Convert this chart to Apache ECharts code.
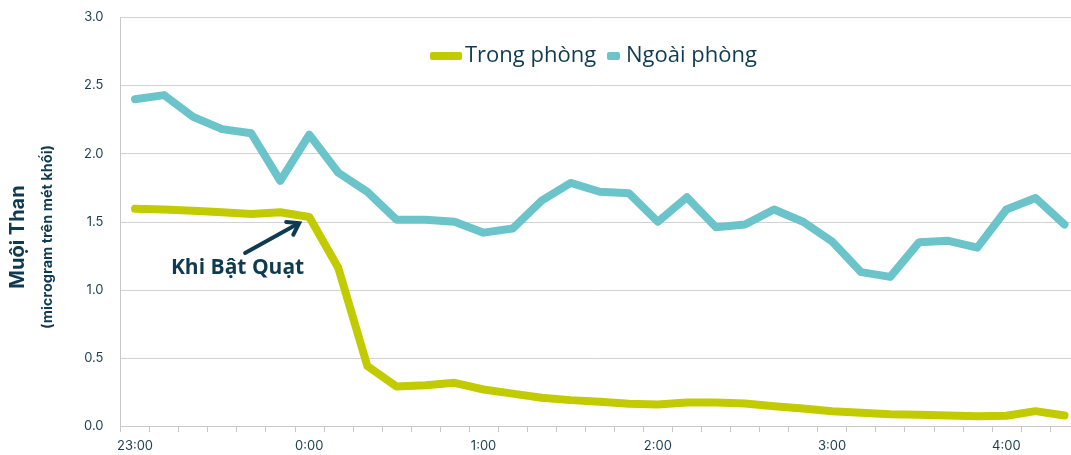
<!DOCTYPE html>
<html>
<head>
<meta charset="utf-8">
<script src="https://cdn.jsdelivr.net/npm/echarts@6/dist/echarts.min.js"></script>
<style>html,body{margin:0;padding:0;background:#fff;overflow:hidden;width:1071px;height:455px;}#c{width:1079px;height:455px;}</style>
</head>
<body>
<div id="c"></div>
<script>
const times = ['23:00','23:10','23:20','23:30','23:40','23:50','0:00','0:10','0:20','0:30','0:40','0:50','1:00','1:10','1:20','1:30','1:40','1:50','2:00','2:10','2:20','2:30','2:40','2:50','3:00','3:10','3:20','3:30','3:40','3:50','4:00','4:10','4:20'];
const trongPhong = [1.595,1.59,1.58,1.57,1.557,1.57,1.535,1.16,0.44,0.29,0.30,0.317,0.268,0.238,0.207,0.19,0.178,0.163,0.158,0.172,0.172,0.165,0.145,0.128,0.109,0.097,0.087,0.082,0.077,0.072,0.075,0.109,0.077];
const ngoaiPhong = [2.40,2.43,2.27,2.18,2.15,1.80,2.14,1.86,1.72,1.515,1.515,1.50,1.42,1.45,1.655,1.785,1.72,1.71,1.50,1.68,1.46,1.48,1.59,1.50,1.355,1.13,1.095,1.35,1.36,1.31,1.59,1.675,1.48];
const seriesNames = ['Trong phòng','Ngoài phòng'];
const yTitle = 'Muội Than';
const ySubtitle = '(microgram trên mét khối)';
const annotationText = 'Khi Bật Quạt';
// annotation anchors in data space: [category index, value]
const arrowTail = [3.79, 1.27];
const arrowHead = [5.65, 1.49];
const textAnchor = [3.53, 1.163];

const navy = '#0f3a4f';
const green = '#c2cb00';
const teal = '#6bc4c9';

const chart = echarts.init(document.getElementById('c'), null, {renderer:'canvas'});
const option = {
  animation: false,
  backgroundColor: '#fff',
  grid: {left: 120.5, right: 0, top: 17.5, bottom: 29, containLabel: false},
  legend: [
    {data:[seriesNames[0]], left: 430, top: 45, padding: 0, icon:'roundRect', itemWidth: 32, itemHeight: 8, itemGap: 0,
     textStyle:{color: navy, fontFamily:'Open Sans', fontSize: 22, padding:[0,0,0,-2]}},
    {data:[seriesNames[1]], left: 607, top: 45, padding: 0, icon:'roundRect', itemWidth: 13, itemHeight: 8, itemGap: 0,
     textStyle:{color: navy, fontFamily:'Open Sans', fontSize: 22, padding:[0,0,0,1]}}
  ],
  xAxis: {
    type: 'category', data: times, boundaryGap: true,
    axisLine: {lineStyle:{color:'#c8c8c8', width:1}},
    axisTick: {show:true, interval:0, length:6, lineStyle:{color:'#c8c8c8'}},
    axisLabel: {interval:5, color:'#1d3d4d', fontFamily:'Inter', fontSize:13, margin:14}
  },
  yAxis: {
    type:'value', min:0, max:3, interval:0.5,
    axisLine:{show:true, lineStyle:{color:'#c8c8c8'}},
    axisTick:{show:false},
    splitLine:{lineStyle:{color:'#d2d2d2'}},
    axisLabel:{color:'#1d3d4d', fontFamily:'Inter', fontSize:13, margin:17, formatter: v => v.toFixed(1)}
  },
  series: [
    {name: seriesNames[0], type:'line', data: trongPhong, symbol:'none', color: green,
     lineStyle:{width:8, color: green, cap:'round', join:'round'}, z:3},
    {name: seriesNames[1], type:'line', data: ngoaiPhong, symbol:'none', color: teal,
     lineStyle:{width:8, color: teal, cap:'round', join:'round'}, z:2}
  ]
};
chart.setOption(option);

function px(pt){
  const a = chart.convertToPixel({gridIndex:0}, [0, pt[1]]);
  const b = chart.convertToPixel({gridIndex:0}, [1, pt[1]]);
  return [a[0] + (b[0]-a[0])*pt[0], a[1]];
}
const t = px(arrowTail), h = px(arrowHead), c = px(textAnchor);
const ang = Math.atan2(h[1]-t[1], h[0]-t[0]);
const L = 13, spread = 0.6;
const w1 = [h[0] - L*Math.cos(ang - spread), h[1] - L*Math.sin(ang - spread)];
const w2 = [h[0] - L*Math.cos(ang + spread), h[1] - L*Math.sin(ang + spread)];
chart.setOption({
  graphic: [
    {type:'line', shape:{x1:t[0], y1:t[1], x2:h[0]-2*Math.cos(ang), y2:h[1]-2*Math.sin(ang)}, style:{stroke:navy, lineWidth:4, lineCap:'round'}, z:10},
    {type:'polyline', shape:{points:[w1, h, w2]}, style:{stroke:navy, lineWidth:4, lineCap:'round', lineJoin:'miter', fill:null}, z:10},
    {type:'text', x:c[0], y:c[1], style:{text:annotationText, fill:navy, font:'bold 21px "Open Sans"', align:'center', verticalAlign:'middle'}, z:10},
    {type:'text', x:18, y:237, rotation:Math.PI/2, style:{text:yTitle, fill:navy, font:'bold 20px Inter', align:'center', verticalAlign:'middle'}},
    {type:'text', x:48, y:237, rotation:Math.PI/2, style:{text:ySubtitle, fill:navy, font:'bold 14.5px Inter', align:'center', verticalAlign:'middle'}}
  ]
});
</script>
</body>
</html>
